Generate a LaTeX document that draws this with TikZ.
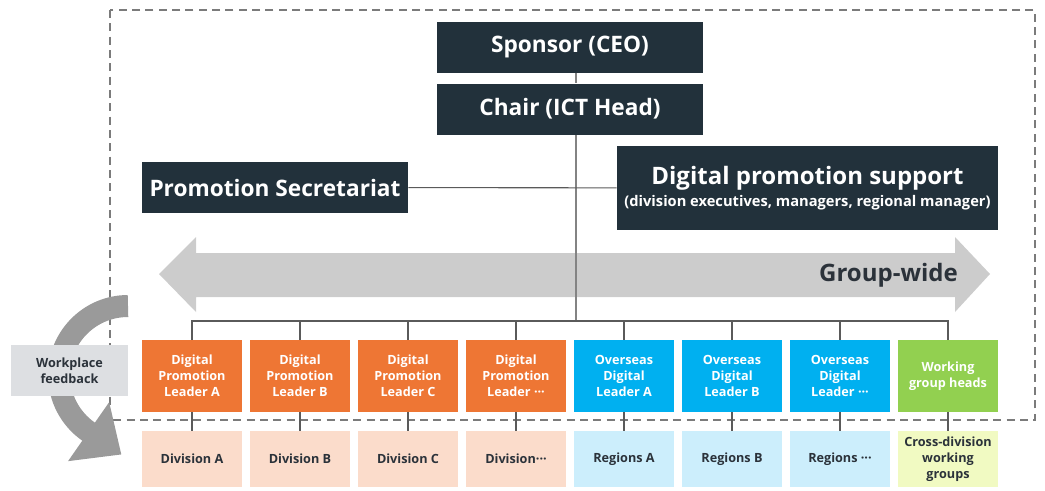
\documentclass[tikz,border=0pt]{standalone}
\usepackage{fontspec}
\setmainfont{Open Sans}
\usetikzlibrary{arrows.meta,positioning,calc}
\definecolor{navy}{HTML}{22313B}
\definecolor{leadorange}{HTML}{EE7634}
\definecolor{leadblue}{HTML}{00B0F0}
\definecolor{leadgreen}{HTML}{92D050}
\definecolor{softorange}{HTML}{FBDCCB}
\definecolor{softblue}{HTML}{CCEEFC}
\definecolor{softyellow}{HTML}{F1FAC2}
\definecolor{bandgray}{HTML}{CCCCCC}
\definecolor{loopgray}{HTML}{9A9A9A}
\definecolor{notegray}{HTML}{DDDFE2}
\definecolor{inkdark}{HTML}{2B323A}
\definecolor{linkgray}{HTML}{5A5A5A}

\begin{document}
\begin{tikzpicture}[x=0.75pt,y=-0.75pt,every node/.style={font=\bfseries,align=center,inner sep=0pt},
  topbox/.style={fill=navy,text=white,minimum width=199.5pt,minimum height=38.25pt,font=\bfseries\fontsize{17pt}{20pt}\selectfont},
  leadbox/.style={fill=#1,text=white,minimum width=75pt,minimum height=54pt,font=\bfseries\fontsize{9.5pt}{12pt}\selectfont},
  unitbox/.style={fill=#1,text=inkdark,minimum width=75pt,minimum height=42pt,font=\bfseries\fontsize{9.5pt}{12pt}\selectfont},
  link/.style={draw=linkgray,line width=0.8pt},
  spine/.style={draw=linkgray!75,line width=0.8pt}]
\useasboundingbox (0,0) rectangle (1045,490);
% dashed frame round the group level
\draw[linkgray!80,line width=0.8pt,dash pattern=on 6pt off 4pt] (110,10) rectangle (1035,420);

% group-wide band
\fill[bandgray] (159,274) -- (196,237) -- (196,253) -- (955,253) -- (955,237) -- (990,274)
  -- (955,312) -- (955,297) -- (196,297) -- (196,312) -- cycle;
\node[anchor=east,text=inkdark,font=\bfseries\fontsize{18pt}{20pt}\selectfont] (groupwide) at (958,275) {Group-wide};

% top of the organisation
\node[topbox] (sponsor) at (570,47.5) {Sponsor (CEO)};
\node[topbox] (chair) at (570,109) {Chair (ICT Head)};
\node[topbox] (secretariat) at (275,187.5) {Promotion Secretariat};
\node[fill=navy,text=white,minimum width=285.75pt,minimum height=63pt] (support) at (807.5,188)
  {{\fontsize{18pt}{22pt}\selectfont Digital promotion support}\\[3pt]
   {\fontsize{11pt}{13pt}\selectfont (division executives, managers, regional manager)}};
\coordinate (bus) at (576,321);
\draw[spine] (sponsor.south -| bus) -- (chair.north -| bus);
\draw[spine] (chair.south -| bus) -- (bus);
\draw[link] (secretariat) -- (support);

% leaders and their units
\foreach \i/\x/\ltxt/\lcol/\utxt/\ucol in {
  1/192/{Digital\\Promotion\\Leader A}/leadorange/{Division A}/softorange,
  2/300/{Digital\\Promotion\\Leader B}/leadorange/{Division B}/softorange,
  3/408/{Digital\\Promotion\\Leader C}/leadorange/{Division C}/softorange,
  4/516/{Digital\\Promotion\\Leader ···}/leadorange/{Division···}/softorange,
  5/624/{Overseas\\Digital\\Leader A}/leadblue/{Regions A}/softblue,
  6/732/{Overseas\\Digital\\Leader B}/leadblue/{Regions B}/softblue,
  7/840/{Overseas\\Digital\\Leader ···}/leadblue/{Regions ···}/softblue,
  8/948/{Working\\group heads}/leadgreen/{Cross-division\\working\\groups}/softyellow}{
  \node[leadbox=\lcol] (lead\i) at (\x,376) {\ltxt};
  \node[unitbox=\ucol] (unit\i) at (\x,459) {\utxt};
  \draw[link] (lead\i.north) |- (bus);
  \draw[link] (lead\i) -- (unit\i);
}

% feedback loop
\draw[loopgray,line width=16.5pt,-{Triangle[length=30pt,width=52pt]}] (128,306)
  arc[start angle=270,end angle=125,radius=69] -- ++(33,23);
\node[fill=notegray,text=inkdark,minimum width=87.75pt,minimum height=38.25pt,
  font=\bfseries\fontsize{9.5pt}{12pt}\selectfont] (feedback) at (69.5,370.5) {Workplace\\feedback};
\end{tikzpicture}
\end{document}
